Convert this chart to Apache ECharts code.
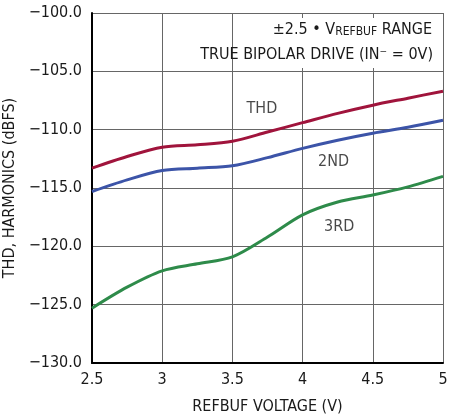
<!DOCTYPE html>
<html><head><meta charset="utf-8">
<script src="https://cdn.jsdelivr.net/npm/echarts@6/dist/echarts.min.js"></script>
<style>html,body{margin:0;padding:0;background:#fff}#c{width:471px;height:419px}</style>
</head><body><div id="c"></div>
<script>
const xVals = [2.5, 2.75, 3, 3.25, 3.5, 3.75, 4, 4.25, 4.5, 4.75, 5];
const thd = [-113.3, -112.3, -111.5, -111.3, -111.0, -110.2, -109.4, -108.6, -107.9, -107.3, -106.7];
const second = [-115.3, -114.3, -113.5, -113.3, -113.1, -112.4, -111.6, -110.9, -110.3, -109.8, -109.2];
const third = [-125.3, -123.5, -122.1, -121.5, -120.9, -119.2, -117.3, -116.2, -115.6, -114.9, -114.0];
const seriesNames = ['THD', '2ND', '3RD'];
const labelPos = [[3.71, -108.2], [4.22, -112.75], [4.26, -118.3]];
const colors = ['#a0143c', '#3c54a8', '#2e8b4a'];
const FONT = "'Liberation Sans Narrow', 'DejaVu Sans Condensed', sans-serif";

const pair = arr => xVals.map((x, i) => [x, arr[i]]);
const chart = echarts.init(document.getElementById('c'));
const lineS = (name, arr, c) => ({
  name, type: 'line', data: pair(arr), smooth: 0.3, symbol: 'none',
  lineStyle: { color: c, width: 3 }, z: 3
});
chart.setOption({
  animation: false,
  grid: { left: 92, right: 28, top: 13, bottom: 56, containLabel: false, outerBoundsMode: 'none' },
  xAxis: {
    type: 'value', min: 2.5, max: 5, interval: 0.5,
    axisLine: { show: true, onZero: false, lineStyle: { color: '#000', width: 2 } },
    axisTick: { show: false },
    splitLine: { show: true, lineStyle: { color: '#666', width: 1 } },
    axisLabel: { color: '#1a1a1a', fontSize: 16, fontFamily: FONT, margin: 9,
      formatter: v => String(v) },
    name: 'REFBUF VOLTAGE (V)', nameLocation: 'middle', nameGap: 36,
    nameTextStyle: { color: '#1a1a1a', fontSize: 16, fontFamily: FONT }
  },
  yAxis: {
    type: 'value', min: -130, max: -100, interval: 5,
    axisLine: { show: true, onZero: false, lineStyle: { color: '#000', width: 2 } },
    axisTick: { show: false },
    splitLine: { show: true, lineStyle: { color: '#666', width: 1 } },
    axisLabel: { color: '#1a1a1a', fontSize: 16, fontFamily: FONT, margin: 10,
      formatter: v => '\u2212' + Math.abs(v).toFixed(1) },
    name: 'THD, HARMONICS (dBFS)', nameLocation: 'middle', nameGap: 71,
    nameTextStyle: { color: '#1a1a1a', fontSize: 16, fontFamily: FONT }
  },
  series: [
    lineS(seriesNames[0], thd, colors[0]),
    lineS(seriesNames[1], second, colors[1]),
    lineS(seriesNames[2], third, colors[2]),
    {
      type: 'scatter', symbolSize: 0, z: 4,
      data: labelPos.map((p, i) => ({ value: p, name: seriesNames[i] })),
      label: { show: true, position: 'inside', formatter: p => p.name,
        color: '#1a1a1a', fontSize: 16, fontFamily: FONT }
    }
  ],
  graphic: [
    { type: 'rect', shape: { x: 250, y: 18, width: 188, height: 50 }, style: { fill: '#fff' }, z: 10 },
    { type: 'text', right: 39, top: 22, z: 11,
      style: { text: '{n|\u00B12.5 \u2022 V}{s|REFBUF}{n| RANGE}', align: 'right',
        rich: { n: { fontSize: 16, fontFamily: FONT, fill: '#1a1a1a', verticalAlign: 'bottom', lineHeight: 19 },
                s: { fontSize: 12, fontFamily: FONT, fill: '#1a1a1a', verticalAlign: 'bottom', lineHeight: 15 } } } },
    { type: 'text', right: 38, top: 47, z: 11,
      style: { text: 'TRUE BIPOLAR DRIVE (IN\u207B = 0V)', fontSize: 16, fontFamily: FONT, fill: '#1a1a1a' } }
  ]
});
</script></body></html>
